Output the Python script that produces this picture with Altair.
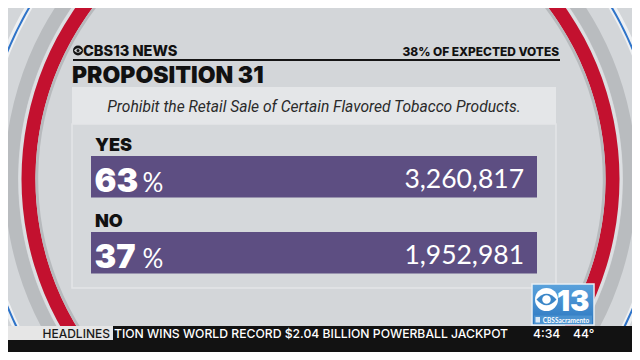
import altair as alt
import pandas as pd

# ---- data ----
options = ["YES", "NO"]
percents = [63, 37]
votes = [3260817, 1952981]
title_text = "PROPOSITION 31"
subtitle_text = "Prohibit the Retail Sale of Certain Flavored Tobacco Products."
brand_text = "CBS13 NEWS"
reporting_text = "38% OF EXPECTED VOTES"
ticker_label = "HEADLINES"
ticker_text = "TION WINS WORLD RECORD $2.04 BILLION POWERBALL JACKPOT"
clock_text = "4:34"
temp_text = "44°"
station_text = "13"
station_sub = "CBSSacramento"

# ---- layout helpers (reference pixel coords; page margin offset O) ----
O = 8
W, H = 624, 344
CX, CY = 320.5, 179
FONT = "Lato"
HEAVY = "Inter"
one = pd.DataFrame({"k": [0]})


def rect(x1, y1, x2, y2, color, **kw):
    return alt.Chart(one).mark_rect(color=color, **kw).encode(
        x=alt.value(x1 - O), x2=alt.value(x2 - O),
        y=alt.value(y1 - O), y2=alt.value(y2 - O))


def ring(r_out, r_in, color):
    return alt.Chart(one).mark_arc(
        radius=r_out, radius2=r_in, theta=0, theta2=6.3, color=color
    ).encode(x=alt.value(CX - O), y=alt.value(CY - O))


def label(x, y, text, size, weight="normal", color="#111111", align="left",
          style="normal", font=FONT):
    return alt.Chart(one).mark_text(
        text=text, fontSize=size, fontWeight=weight, color=color, align=align,
        baseline="alphabetic", font=font, fontStyle=style
    ).encode(x=alt.value(x - O), y=alt.value(y - O))


def symbol(x, y, shape, size, color):
    return alt.Chart(one).mark_point(
        shape=shape, size=size, filled=True, color=color, opacity=1, strokeWidth=0
    ).encode(x=alt.value(x - O), y=alt.value(y - O))


ALMOND = "M-1,0 Q0,-1.15 1,0 Q0,1.15 -1,0 Z"

df = pd.DataFrame({"option": options, "pct": percents, "votes": votes})
df["pct_text"] = df["pct"].astype(str)

yscale = alt.Scale(domain=options, range=[156 - O, 273.5 - O], paddingInner=0.454, paddingOuter=0)
xscale = alt.Scale(domain=[0, 100], range=[91 - O, 537 - O])


def yenc():
    return alt.Y("option:N", scale=yscale, axis=None)


base = alt.Chart(df)

bars = base.mark_bar(color="#5d4e82", cornerRadius=0).encode(
    y=yenc(), x=alt.X(datum=0, scale=xscale, axis=None), x2=alt.X2(datum=100))

opt_labels = base.mark_text(font=HEAVY, fontSize=18, fontWeight=900, color="#111111",
                            align="left", baseline="alphabetic", dy=-26).encode(
    y=yenc(), x=alt.value(95 - O), text="option:N")

pct_labels = base.mark_text(font=HEAVY, fontSize=32.5, fontWeight=900, color="#ffffff",
                            align="left", baseline="alphabetic", dy=15).encode(
    y=yenc(), x=alt.value(94.5 - O), text="pct_text:N")

pct_signs = base.mark_text(font=FONT, fontSize=26, fontWeight="normal", color="#ffffff",
                           align="left", baseline="alphabetic", dy=15, text="%").encode(
    y=yenc(), x=alt.value(142.5 - O))

vote_labels = base.mark_text(font=FONT, fontSize=26.5, fontWeight="normal", color="#ffffff",
                             align="right", baseline="alphabetic", dy=11).encode(
    y=yenc(), x=alt.value(524 - O), text=alt.Text("votes:Q", format=","))

logo_grad = alt.LinearGradient(
    gradient="linear",
    stops=[alt.GradientStop(color="#5aa2dc", offset=0), alt.GradientStop(color="#2c77c0", offset=1)],
    x1=0, x2=0, y1=0, y2=1)

layers = [
    # background rings
    ring(342, 335, "#eef0f2"),
    ring(339, 336.5, "#2f74c9"),
    ring(316, 302, "#b9bcbf"),
    ring(302, 299, "#dcdfe2"),
    ring(299, 285, "#c3112f"),
    ring(285, 282, "#b7babd"),
    # panels
    rect(72, 87, 556, 124, "#e4e6e8"),
    rect(72, 124, 556, 288, "#d5d8db", stroke="#e3e5e7", strokeWidth=1.5),
    # header
    symbol(78, 50.5, "circle", 100, "#151515"),
    symbol(78, 50.5, ALMOND, 64, "#d3d6d9"),
    symbol(78, 50.5, "circle", 9, "#151515"),
    label(83, 56, brand_text, 14.6, weight=800, font=HEAVY),
    label(559, 56, reporting_text, 11.9, weight=800, align="right", font=HEAVY),
    rect(73, 59, 560, 61, "#151515"),
    label(72, 83, title_text, 23, weight=900, font=HEAVY),
    label(314, 112, subtitle_text, 15.6, color="#2a2a2a", align="center",
          style="italic", font="Roboto"),
    # bars and labels
    bars, opt_labels, pct_labels, pct_signs, vote_labels,
    # station logo
    rect(532, 284, 594, 325, logo_grad, stroke="#e8eef4", strokeWidth=1.5),
    symbol(546.5, 299.5, "circle", 529, "#ffffff"),
    symbol(546.5, 299.5, ALMOND, 400, "#3a86c8"),
    symbol(546.5, 299.5, "circle", 72, "#ffffff"),
    label(557, 311, station_text, 29, weight=900, color="#ffffff", font=HEAVY),
    rect(534, 315.5, 592, 324, "#4b92d0"),
    rect(535.5, 317, 540, 322.5, "#ffffff", opacity=0.8),
    label(566, 322.5, station_sub, 6.5, weight="bold", color="#ffffff", align="center"),
    # ticker
    rect(0, 326, 640, 360, "#121212"),
    rect(0, 326, 113, 340, "#e6e6e6"),
    label(110, 337.5, ticker_label, 12, weight=500, color="#1a1a1a", align="right", font=HEAVY),
    label(114, 337.5, ticker_text, 12.2, weight=500, color="#ffffff", font=HEAVY),
    label(533, 337.5, clock_text, 12.2, weight=500, color="#ffffff", font=HEAVY),
    label(573, 337.5, temp_text, 12.2, weight=500, color="#ffffff", font=HEAVY),
]

chart = alt.layer(*layers).properties(
    width=W, height=H, padding=0, background="#d3d6d9",
    autosize=alt.AutoSizeParams(type="none"),
).configure_view(stroke=None)

chart.save("out.html", embed_options={"renderer": "svg", "actions": False})
